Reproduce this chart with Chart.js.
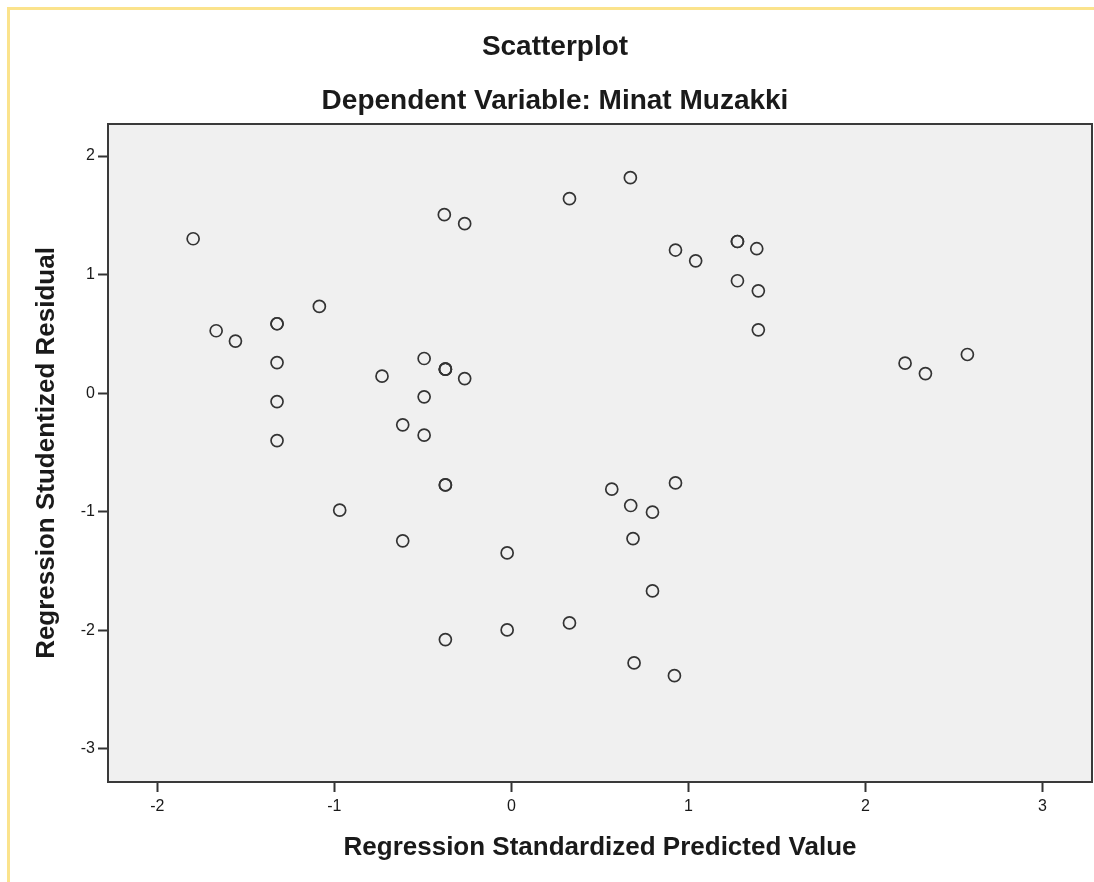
<!DOCTYPE html>
<html>
<head>
<meta charset="utf-8">
<script src="https://cdn.jsdelivr.net/npm/chart.js@4/dist/chart.umd.min.js"></script>
<style>
  html, body { margin: 0; padding: 0; background: #fff; }
  #wrap { position: relative; width: 1094px; height: 882px; }
</style>
</head>
<body>
<div id="wrap"><canvas id="c" width="1094" height="882"></canvas></div>
<script>
// Residual scatter, values (doubled entries = overlapping circles).
const predicted = [
  -1.798, -0.379, -0.264, -1.085, -1.324, -1.324, -1.668, -1.559, -1.324, -0.493,
  -0.373, -0.373, -0.373, -0.731, -0.264, -0.493, -1.324, -0.614, -0.493, -1.324,
  -0.373, -0.373, -0.970, -0.614, -0.373,
  0.672, 0.328, 1.277, 1.277, 1.386, 0.927, 1.041, 1.277, 1.395, 1.395,
  0.927, 0.567, 0.674, 0.797, 0.687, -0.024, 0.797, 0.328, -0.024, 0.693, 0.921,
  2.224, 2.339, 2.576
];
const residual = [
  1.302, 1.505, 1.429, 0.731, 0.585, 0.585, 0.526, 0.439, 0.258, 0.292,
  0.202, 0.202, 0.202, 0.143, 0.123, -0.031, -0.071, -0.267, -0.355, -0.400,
  -0.774, -0.774, -0.987, -1.246, -2.079,
  1.817, 1.640, 1.279, 1.279, 1.218, 1.207, 1.116, 0.948, 0.863, 0.534,
  -0.757, -0.810, -0.948, -1.004, -1.227, -1.348, -1.668, -1.938, -1.997, -2.276, -2.383,
  0.253, 0.165, 0.326
];
const xTicks = [-2, -1, 0, 1, 2, 3];
const yTicks = [-3, -2, -1, 0, 1, 2];

const FONT = "'Liberation Sans', Arial, sans-serif";
const INK = '#1a1a1a';

// plot box fill + frame, plus the yellow page edge on top/left
const frame = {
  id: 'frame',
  beforeDraw(chart) {
    const { ctx, chartArea: a } = chart;
    ctx.save();
    ctx.fillStyle = '#fbe38c';
    ctx.fillRect(7, 7, chart.width, 3);
    ctx.fillRect(7, 7, 3, chart.height);
    ctx.fillStyle = '#f0f0f0';
    ctx.fillRect(a.left, a.top, a.right - a.left, a.bottom - a.top);
    ctx.restore();
  },
  beforeDatasetsDraw(chart) {
    const { ctx, chartArea: a } = chart;
    ctx.save();
    ctx.strokeStyle = '#3a3a3a';
    ctx.lineWidth = 2;
    ctx.strokeRect(a.left, a.top, a.right - a.left, a.bottom - a.top);
    ctx.restore();
  }
};

const axisGrid = { display: true, drawOnChartArea: false, drawTicks: true, tickLength: 10, tickWidth: 2, tickColor: '#333' };

new Chart(document.getElementById('c'), {
  type: 'scatter',
  data: {
    datasets: [{
      data: predicted.map((x, i) => ({ x, y: residual[i] })),
      pointRadius: 6,
      pointHoverRadius: 6,
      pointBorderWidth: 1.7,
      pointBorderColor: '#333',
      pointBackgroundColor: 'rgba(0,0,0,0)',
      showLine: false
    }]
  },
  options: {
    responsive: false,
    animation: false,
    events: [],
    layout: { autoPadding: false, padding: { left: 18, right: 2, top: 8, bottom: 0 } },
    plugins: {
      legend: { display: false },
      tooltip: { enabled: false },
      title: {
        display: true, text: 'Scatterplot', color: INK,
        font: { family: FONT, size: 28, weight: 'bold' },
        padding: { top: 22.2, bottom: 5 }
      },
      subtitle: {
        display: true, text: 'Dependent Variable: Minat Muzakki', color: INK,
        font: { family: FONT, size: 28, weight: 'bold' },
        padding: { top: 15.4, bottom: 6.2 }
      }
    },
    scales: {
      x: {
        type: 'linear', min: -2.279, max: 3.28,
        afterBuildTicks: s => { s.ticks = xTicks.map(v => ({ value: v })); },
        afterFit: s => { s.height = 100; s.paddingLeft = 0; s.paddingRight = 0; },
        grid: axisGrid,
        border: { display: false },
        ticks: { color: INK, padding: 5, font: { family: FONT, size: 16 }, maxRotation: 0 },
        title: {
          display: true, text: 'Regression Standardized Predicted Value', color: INK,
          font: { family: FONT, size: 26, weight: 'bold' }, padding: 18.4
        }
      },
      y: {
        type: 'linear', min: -3.28, max: 2.27,
        afterBuildTicks: s => { s.ticks = yTicks.map(v => ({ value: v })); },
        afterFit: s => { s.width = 90; s.paddingTop = 0; s.paddingBottom = 0; },
        grid: axisGrid,
        border: { display: false },
        ticks: { color: INK, padding: 3, font: { family: FONT, size: 16 } },
        title: {
          display: true, text: 'Regression Studentized Residual', color: INK,
          font: { family: FONT, size: 26, weight: 'bold' }, padding: 13.4
        }
      }
    }
  },
  plugins: [frame]
});
</script>
</body>
</html>
